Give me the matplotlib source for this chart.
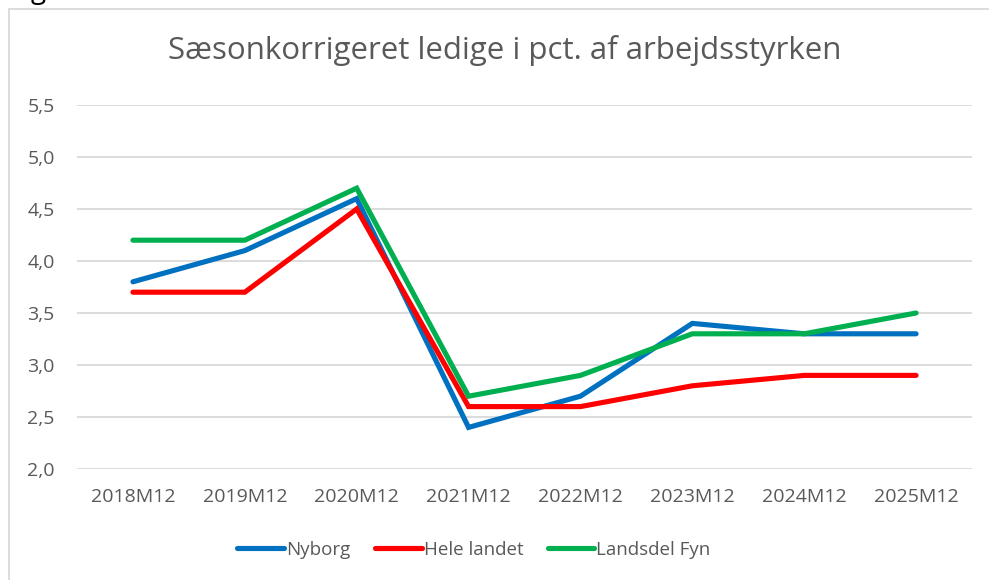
import matplotlib.pyplot as plt
from matplotlib.patches import Rectangle

# Data
periods = ['2018M12', '2019M12', '2020M12', '2021M12',
           '2022M12', '2023M12', '2024M12', '2025M12']
nyborg = [3.8, 4.1, 4.6, 2.4, 2.7, 3.4, 3.3, 3.3]
hele_landet = [3.7, 3.7, 4.5, 2.6, 2.6, 2.8, 2.9, 2.9]
landsdel_fyn = [4.2, 4.2, 4.7, 2.7, 2.9, 3.3, 3.3, 3.5]
yticks = [2.0, 2.5, 3.0, 3.5, 4.0, 4.5, 5.0, 5.5]
title = 'Sæsonkorrigeret ledige i pct. af arbejdsstyrken'

plt.rcParams['font.family'] = ['Open Sans', 'DejaVu Sans']
grey_txt = '#595959'

W, H = 989, 580
fig = plt.figure(figsize=(W / 100, H / 100), dpi=100)

# outer chart frame (cropped on the right and bottom)
fig.add_artist(Rectangle((9 / W, -0.05), 1.1, (H - 9) / H + 0.05,
                         transform=fig.transFigure, fill=False,
                         edgecolor='#d9d9d9', linewidth=1.3))
# cropped piece of text above the chart
fig.text(31 / W, 1.0 + 2 / H, 'g', fontsize=20, color='black',
         ha='left', va='baseline')

ax = fig.add_axes([77 / W, (H - 469) / H, (972 - 77) / W, (469 - 105) / H])
x = list(range(len(periods)))
lw = 3.7
ax.plot(x, nyborg, color='#0070C0', lw=lw, solid_capstyle='round',
        solid_joinstyle='miter', label='Nyborg', zorder=3)
ax.plot(x, hele_landet, color='#FF0000', lw=lw, solid_capstyle='round',
        solid_joinstyle='miter', label='Hele landet', zorder=3)
ax.plot(x, landsdel_fyn, color='#00B050', lw=lw, solid_capstyle='round',
        solid_joinstyle='miter', label='Landsdel Fyn', zorder=3)

ax.set_xlim(-0.5, len(periods) - 0.5)
ax.set_ylim(2.0, 5.5)
ax.set_yticks(yticks)
ax.set_yticklabels([f'{v:.1f}'.replace('.', ',') for v in yticks])
ax.set_xticks(x)
ax.set_xticklabels(periods)
ax.tick_params(length=0, labelsize=14, colors=grey_txt)
ax.tick_params(axis='y', pad=16)
ax.tick_params(axis='x', pad=14)
ax.grid(axis='y', color='#d9d9d9', lw=1.3)
ax.set_axisbelow(True)
for s in ax.spines.values():
    s.set_visible(False)

fig.text(505 / W, 1 - 51 / H, title, fontsize=22.5, color=grey_txt,
         ha='center', va='center')

fig.legend(loc='center', bbox_to_anchor=(474 / W, 1 - 550 / H), ncol=3,
           frameon=False, fontsize=13.5, labelcolor=grey_txt,
           handlelength=2.5, handletextpad=0.1, columnspacing=1.3)

fig.savefig('out.png', dpi=100)
